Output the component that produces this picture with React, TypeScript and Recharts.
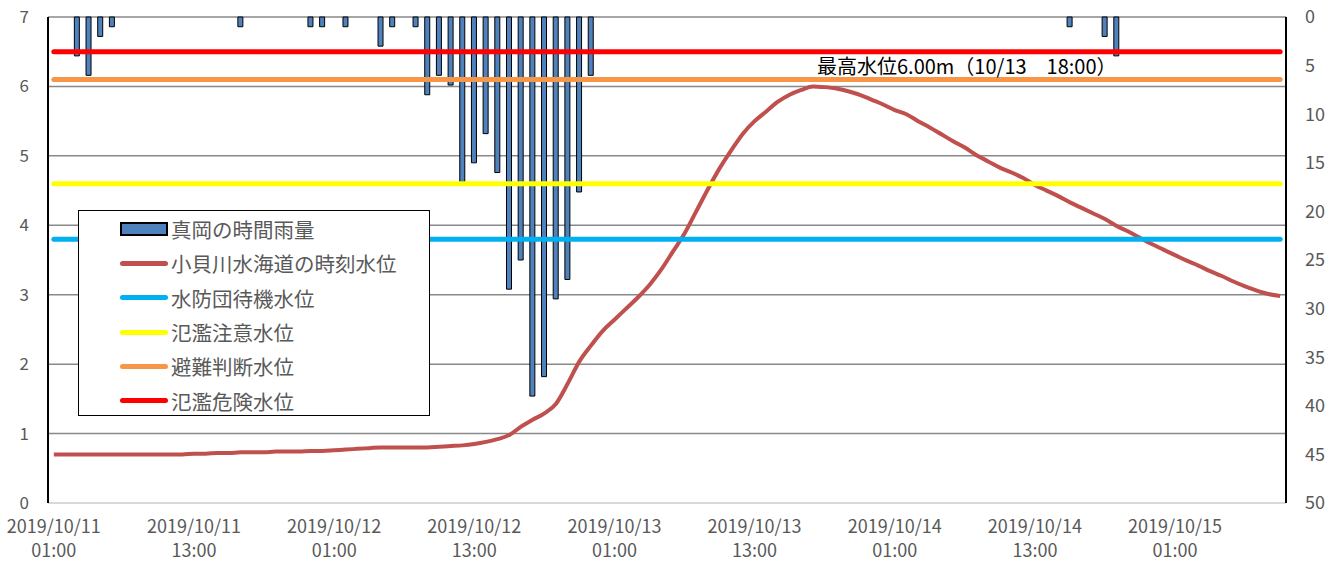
import {
  Bar,
  CartesianGrid,
  ComposedChart,
  Legend,
  Line,
  ReferenceDot,
  XAxis,
  YAxis
} from "recharts";

const FONT = '"Noto Sans CJK JP", "Noto Sans", sans-serif';

// hourly rainfall at 真岡 (mm), 2019/10/11 01:00 .. 2019/10/15 10:00
const rainfall = [
  0, 0, 4, 6, 2, 1, 0, 0, 0, 0, 0, 0,
  0, 0, 0, 0, 1, 0, 0, 0, 0, 0, 1, 1,
  0, 1, 0, 0, 3, 1, 0, 1, 8, 6, 7, 17,
  15, 12, 16, 28, 25, 39, 37, 29, 27, 18, 6, 0,
  0, 0, 0, 0, 0, 0, 0, 0, 0, 0, 0, 0,
  0, 0, 0, 0, 0, 0, 0, 0, 0, 0, 0, 0,
  0, 0, 0, 0, 0, 0, 0, 0, 0, 0, 0, 0,
  0, 0, 0, 1, 0, 0, 2, 4, 0, 0, 0, 0,
  0, 0, 0, 0, 0, 0, 0, 0, 0, 0
];

// water level at 小貝川 水海道 (m)
const waterLevel = [
  0.7, 0.7, 0.7, 0.7, 0.7, 0.7, 0.7, 0.7, 0.7, 0.7, 0.7, 0.7,
  0.71, 0.71, 0.72, 0.72, 0.73, 0.73, 0.73, 0.74, 0.74, 0.74, 0.75, 0.75,
  0.76, 0.77, 0.78, 0.79, 0.8, 0.8, 0.8, 0.8, 0.8, 0.81, 0.82, 0.83,
  0.85, 0.88, 0.92, 0.98, 1.1, 1.2, 1.29, 1.43, 1.72, 2.04, 2.27, 2.48,
  2.64, 2.8, 2.96, 3.14, 3.36, 3.62, 3.88, 4.2, 4.52, 4.82, 5.08, 5.32,
  5.5, 5.64, 5.78, 5.88, 5.95, 6.0, 5.99, 5.97, 5.93, 5.88, 5.81, 5.74,
  5.66, 5.6, 5.5, 5.41, 5.31, 5.21, 5.12, 5.01, 4.92, 4.83, 4.76, 4.68,
  4.58, 4.5, 4.42, 4.33, 4.25, 4.17, 4.09, 3.99, 3.91, 3.82, 3.73, 3.65,
  3.57, 3.49, 3.42, 3.34, 3.27, 3.19, 3.12, 3.06, 3.01, 2.98
];

const thresholds = [
  { name: "水防団待機水位", level: 3.8, color: "#00B0F0" },
  { name: "氾濫注意水位", level: 4.6, color: "#FFFF00" },
  { name: "避難判断水位", level: 6.1, color: "#F79646" },
  { name: "氾濫危険水位", level: 6.5, color: "#FF0000" }
];

const levelTicks = [0, 1, 2, 3, 4, 5, 6, 7];
const rainTicks = [0, 5, 10, 15, 20, 25, 30, 35, 40, 45, 50];

// one label per hour, starting 2019/10/11 01:00
const times = rainfall.map((_, i) => {
  const h = 1 + i;
  const day = 11 + Math.floor(h / 24);
  return `2019/10/${day} ${String(h % 24).padStart(2, "0")}:00`;
});

const data = times.map((time, i) => {
  const row: { [key: string]: number | string } = {
    time,
    rain: rainfall[i],
    level: waterLevel[i]
  };
  thresholds.forEach((t) => (row[t.name] = t.level));
  return row;
});

const peakIndex = waterLevel.indexOf(Math.max(...waterLevel));
const peakTime = times[peakIndex];
const [peakDate, peakClock] = peakTime.split(" ");
const peakText = `最高水位${waterLevel[peakIndex].toFixed(2)}m（${peakDate.slice(5)}　${peakClock}）`;

const legendItems = [
  { name: "真岡の時間雨量", color: "#4F81BD", bar: true },
  { name: "小貝川水海道の時刻水位", color: "#C0504D", bar: false },
  ...thresholds.map((t) => ({ name: t.name, color: t.color, bar: false }))
];

const TimeTick = ({ x, y, payload }: any) => {
  const [date, clock] = String(payload.value).split(" ");
  return (
    <text x={x} y={y} textAnchor="middle" fill="#595959" fontSize={18} fontFamily={FONT}>
      <tspan x={x} dy={28}>{date}</tspan>
      <tspan x={x} dy={24}>{clock}</tspan>
    </text>
  );
};

const LegendBox = () => (
  <div
    style={{
      width: 350,
      height: 203,
      border: "1.5px solid #000",
      background: "#fff",
      paddingTop: 1,
      boxSizing: "content-box",
      fontFamily: FONT
    }}>
    {legendItems.map((item) => (
      <div
        key={item.name}
        style={{ height: 34.3, display: "flex", alignItems: "center" }}>
        <div style={{ width: 41 }} />
        {item.bar ? (
          <div
            style={{
              width: 44,
              height: 10,
              background: item.color,
              border: "2px solid #000"
            }}
          />
        ) : (
          <div
            style={{
              width: 48,
              height: 5,
              borderRadius: 3,
              background: item.color
            }}
          />
        )}
        <span style={{ marginLeft: 3, fontSize: 20.5, color: "#595959" }}>{item.name}</span>
      </div>
    ))}
  </div>
);

const PeakLabel = ({ viewBox }: any) => (
  <text
    x={viewBox.x + 4}
    y={viewBox.y - 12}
    fill="#000"
    fontSize={20}
    fontFamily={FONT}>
    {peakText}
  </text>
);

export default function App() {
  return (
    <div style={{ position: "absolute", left: 0, top: 0 }}>
      <ComposedChart
        width={1340}
        height={562}
        data={data}
        margin={{ top: 17, right: 0, bottom: 0, left: 0 }}>
        <CartesianGrid
          yAxisId="left"
          vertical={false}
          stroke="#898989"
          strokeWidth={1.5}
        />
        <XAxis
          dataKey="time"
          interval={11}
          height={59}
          tickLine={false}
          tickSize={0}
          axisLine={{ stroke: "#d9d9d9", strokeWidth: 2 }}
          tick={<TimeTick />}
        />
        <XAxis
          xAxisId="top"
          dataKey="time"
          orientation="top"
          height={0}
          tick={false}
          tickLine={false}
          axisLine={{ stroke: "#000", strokeWidth: 2 }}
        />
        <YAxis
          yAxisId="left"
          width={48}
          domain={[0, 7]}
          ticks={levelTicks}
          tickLine={false}
          tickSize={0}
          tickMargin={19}
          axisLine={{ stroke: "#000", strokeWidth: 2 }}
          tick={{ fill: "#595959", fontSize: 17, fontFamily: FONT }}
        />
        <YAxis
          yAxisId="right"
          orientation="right"
          width={54}
          domain={[0, 50]}
          reversed
          ticks={rainTicks}
          tickLine={false}
          tickSize={0}
          tickMargin={19}
          axisLine={{ stroke: "#000", strokeWidth: 2 }}
          tick={{ fill: "#595959", fontSize: 18, fontFamily: FONT, textAnchor: "start" }}
        />
        <Bar
          xAxisId="top"
          yAxisId="right"
          dataKey="rain"
          name="真岡の時間雨量"
          barSize={5}
          fill="#4F81BD"
          stroke="#000"
          strokeWidth={1}
          isAnimationActive={false}
        />
        <Line
          yAxisId="left"
          dataKey="level"
          name="小貝川水海道の時刻水位"
          type="monotone"
          stroke="#C0504D"
          strokeWidth={4}
          dot={false}
          activeDot={false}
          isAnimationActive={false}
        />
        {thresholds.map((t) => (
          <Line
            key={t.name}
            yAxisId="left"
            dataKey={t.name}
            stroke={t.color}
            strokeWidth={5}
            strokeLinecap="round"
            dot={false}
            activeDot={false}
            isAnimationActive={false}
          />
        ))}
        <ReferenceDot
          yAxisId="left"
          x={peakTime}
          y={waterLevel[peakIndex]}
          r={0}
          fill="none"
          stroke="none"
          label={<PeakLabel />}
        />
        <Legend
          layout="vertical"
          align="center"
          verticalAlign="middle"
          wrapperStyle={{ left: 78, top: 210, width: "auto" }}
          content={<LegendBox />}
        />
      </ComposedChart>
    </div>
  );
}
